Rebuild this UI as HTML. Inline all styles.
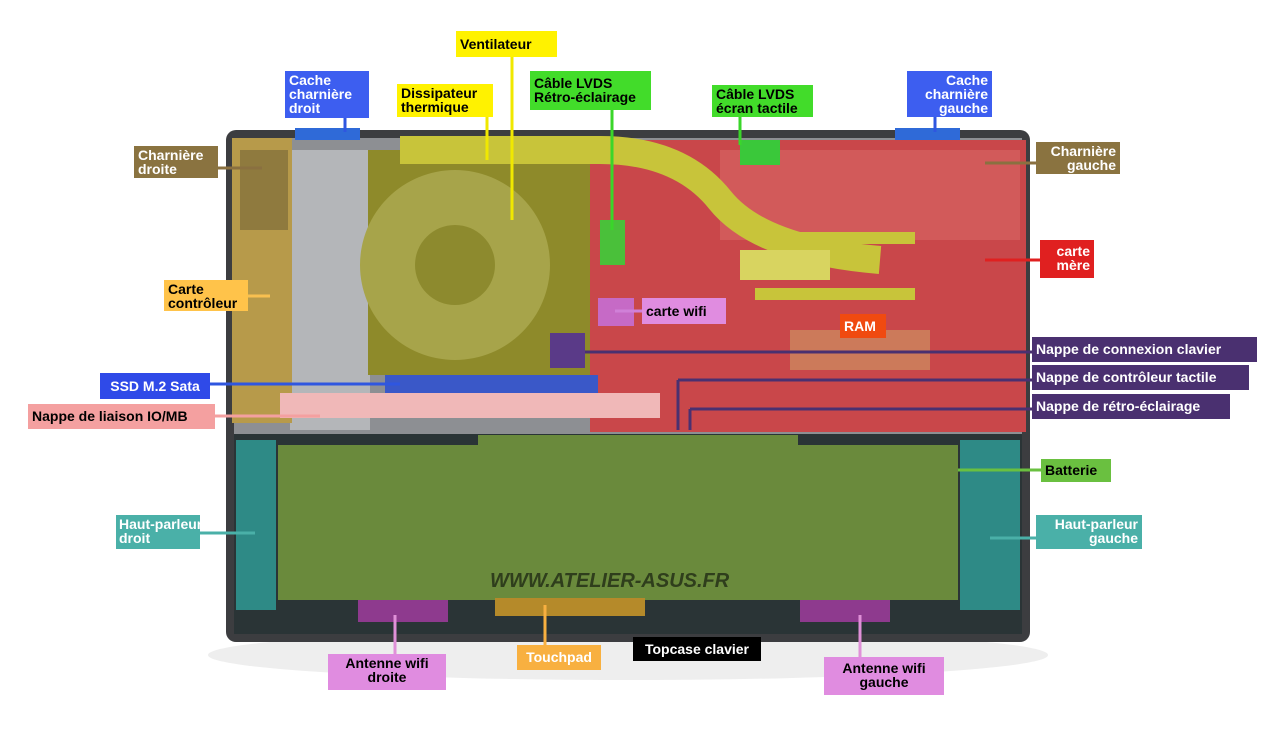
<!DOCTYPE html>
<html><head><meta charset="utf-8"><style>
body{margin:0;background:#fff;width:1280px;height:732px;position:relative;overflow:hidden;font-family:"Liberation Sans",sans-serif}
.l{position:absolute;font-weight:bold;font-size:14px;line-height:14px;padding:2px 4px;box-sizing:border-box;white-space:nowrap}
svg{position:absolute;left:0;top:0}
</style></head><body>
<svg width="1280" height="732">
<ellipse cx="628" cy="655" rx="420" ry="25" fill="#eee"/>
<rect x="226" y="130" width="804" height="512" rx="10" fill="#3c3d40"/>
<rect x="234" y="138" width="788" height="296" fill="#8d8f93"/>
<rect x="290" y="150" width="80" height="280" fill="#b4b6b9"/>
<rect x="232" y="138" width="60" height="285" fill="#b79a4a"/>
<rect x="240" y="150" width="48" height="80" fill="#8f7a3e"/>
<rect x="368" y="150" width="240" height="225" fill="#8e8a2a"/>
<circle cx="455" cy="265" r="95" fill="#a7a44a"/>
<circle cx="455" cy="265" r="40" fill="#8d8a2e"/>
<rect x="590" y="140" width="436" height="292" fill="#c9474a"/>
<rect x="720" y="150" width="300" height="90" fill="#d25a5a"/>
<rect x="790" y="330" width="140" height="40" fill="#cc7a5a"/>
<path d="M400 150 L600 150 Q680 150 720 200 Q760 250 880 260" stroke="#c8c43a" stroke-width="28" fill="none"/>
<rect x="755" y="232" width="160" height="12" fill="#c8c43a"/>
<rect x="755" y="288" width="160" height="12" fill="#c8c43a"/>
<rect x="740" y="250" width="90" height="30" fill="#d8d460"/>
<rect x="385" y="375" width="213" height="20" fill="#3a58c8"/>
<rect x="280" y="393" width="380" height="25" fill="#f0b8b8"/>
<rect x="550" y="333" width="35" height="35" fill="#5a3a88"/>
<rect x="598" y="298" width="36" height="28" fill="#c66ac6"/>
<rect x="600" y="220" width="25" height="45" fill="#4ac03a"/>
<rect x="740" y="140" width="40" height="25" fill="#3ac83a"/>
<rect x="295" y="128" width="65" height="12" fill="#2f6ad8"/>
<rect x="895" y="128" width="65" height="12" fill="#2f6ad8"/>
<rect x="234" y="434" width="788" height="200" fill="#2a3436"/>
<rect x="236" y="440" width="40" height="170" fill="#2e8a86"/>
<rect x="960" y="440" width="60" height="170" fill="#2e8a86"/>
<rect x="278" y="445" width="680" height="155" fill="#6a8a3c"/>
<rect x="478" y="435" width="320" height="20" fill="#6a8a3c"/>
<rect x="495" y="598" width="150" height="18" fill="#b58a2a"/>
<rect x="358" y="600" width="90" height="22" fill="#8e3a8e"/>
<rect x="800" y="600" width="90" height="22" fill="#8e3a8e"/>
<text x="490" y="587" font-family="Liberation Sans" font-weight="bold" font-style="italic" font-size="20" fill="#2f3e1c">WWW.ATELIER-ASUS.FR</text>
<g stroke-width="3" fill="none">
<line x1="512" y1="57" x2="512" y2="220" stroke="#f0e800"/>
<line x1="487" y1="117" x2="487" y2="160" stroke="#f0e800"/>
<line x1="345" y1="118" x2="345" y2="132" stroke="#2f56e0"/>
<line x1="935" y1="117" x2="935" y2="132" stroke="#2f56e0"/>
<line x1="612" y1="110" x2="612" y2="230" stroke="#3ad62a"/>
<line x1="740" y1="117" x2="740" y2="145" stroke="#3ad62a"/>
<line x1="218" y1="168" x2="262" y2="168" stroke="#8a7040"/>
<line x1="1036" y1="163" x2="985" y2="163" stroke="#8a7040"/>
<line x1="1040" y1="260" x2="985" y2="260" stroke="#e02020"/>
<line x1="248" y1="296" x2="270" y2="296" stroke="#f8c050"/>
<line x1="642" y1="311" x2="615" y2="311" stroke="#d080d8"/>
<line x1="1032" y1="352" x2="585" y2="352" stroke="#4a3070"/>
<line x1="1032" y1="380" x2="678" y2="380" stroke="#4a3070"/>
<line x1="678" y1="380" x2="678" y2="430" stroke="#4a3070"/>
<line x1="1032" y1="409" x2="690" y2="409" stroke="#4a3070"/>
<line x1="690" y1="409" x2="690" y2="430" stroke="#4a3070"/>
<line x1="210" y1="384" x2="400" y2="384" stroke="#2f56e0"/>
<line x1="215" y1="416" x2="320" y2="416" stroke="#f4a0a0"/>
<line x1="1041" y1="470" x2="958" y2="470" stroke="#6ac040"/>
<line x1="200" y1="533" x2="255" y2="533" stroke="#4ab0a8"/>
<line x1="1036" y1="538" x2="990" y2="538" stroke="#4ab0a8"/>
<line x1="395" y1="654" x2="395" y2="615" stroke="#e090d8"/>
<line x1="545" y1="645" x2="545" y2="605" stroke="#f8b040"/>
<line x1="860" y1="657" x2="860" y2="615" stroke="#e090d8"/>
</g>
</svg>
<div class="l" style="left:456px;top:31px;width:101px;height:26px;background:#fff200;padding-top:6px">Ventilateur</div>
<div class="l" style="left:285px;top:71px;width:84px;height:47px;background:#3d5ef0;color:#fff">Cache<br>charnière<br>droit</div>
<div class="l" style="left:397px;top:84px;width:96px;height:33px;background:#fff200">Dissipateur<br>thermique</div>
<div class="l" style="left:530px;top:71px;width:121px;height:39px;background:#42dc2a;padding-top:5px">Câble LVDS<br>Rétro-éclairage</div>
<div class="l" style="left:712px;top:85px;width:101px;height:32px;background:#42dc2a">Câble LVDS<br>écran tactile</div>
<div class="l" style="left:907px;top:71px;width:85px;height:46px;background:#3d5ef0;color:#fff;text-align:right">Cache<br>charnière<br>gauche</div>
<div class="l" style="left:134px;top:146px;width:84px;height:32px;background:#8a7340;color:#fff">Charnière<br>droite</div>
<div class="l" style="left:1036px;top:142px;width:84px;height:32px;background:#8a7340;color:#fff;text-align:right">Charnière<br>gauche</div>
<div class="l" style="left:1040px;top:240px;width:54px;height:38px;background:#e02020;color:#fff;text-align:right;padding-top:4px">carte<br>mère</div>
<div class="l" style="left:164px;top:280px;width:84px;height:31px;background:#ffc34a">Carte<br>contrôleur</div>
<div class="l" style="left:642px;top:298px;width:84px;height:26px;background:#e08ce0;padding-top:6px">carte wifi</div>
<div class="l" style="left:840px;top:314px;width:46px;height:24px;background:#f04a10;color:#fff;padding-top:5px">RAM</div>
<div class="l" style="left:1032px;top:337px;width:225px;height:25px;background:#4a3070;color:#fff;padding-top:5px">Nappe de connexion clavier</div>
<div class="l" style="left:1032px;top:365px;width:217px;height:25px;background:#4a3070;color:#fff;padding-top:5px">Nappe de contrôleur tactile</div>
<div class="l" style="left:1032px;top:394px;width:198px;height:25px;background:#4a3070;color:#fff;padding-top:5px">Nappe de rétro-éclairage</div>
<div class="l" style="left:100px;top:373px;width:110px;height:26px;background:#2f4ae8;color:#fff;padding-top:6px;text-align:center">SSD M.2 Sata</div>
<div class="l" style="left:28px;top:404px;width:187px;height:25px;background:#f4a0a0;padding-top:5px">Nappe de liaison IO/MB</div>
<div class="l" style="left:1041px;top:459px;width:70px;height:23px;background:#6ac040;padding-top:4px">Batterie</div>
<div class="l" style="left:116px;top:515px;width:84px;height:34px;background:#4ab0a8;color:#fff;padding:2px 3px">Haut-parleur<br>droit</div>
<div class="l" style="left:1036px;top:515px;width:106px;height:34px;background:#4ab0a8;color:#fff;text-align:right">Haut-parleur<br>gauche</div>
<div class="l" style="left:328px;top:654px;width:118px;height:36px;background:#e08ce0;text-align:center">Antenne wifi<br>droite</div>
<div class="l" style="left:517px;top:645px;width:84px;height:25px;background:#f8b040;color:#fff;padding-top:5px;text-align:center">Touchpad</div>
<div class="l" style="left:633px;top:637px;width:128px;height:24px;background:#000;color:#fff;padding-top:5px;text-align:center">Topcase clavier</div>
<div class="l" style="left:824px;top:657px;width:120px;height:38px;background:#e08ce0;text-align:center;padding-top:4px">Antenne wifi<br>gauche</div>
</body></html>
